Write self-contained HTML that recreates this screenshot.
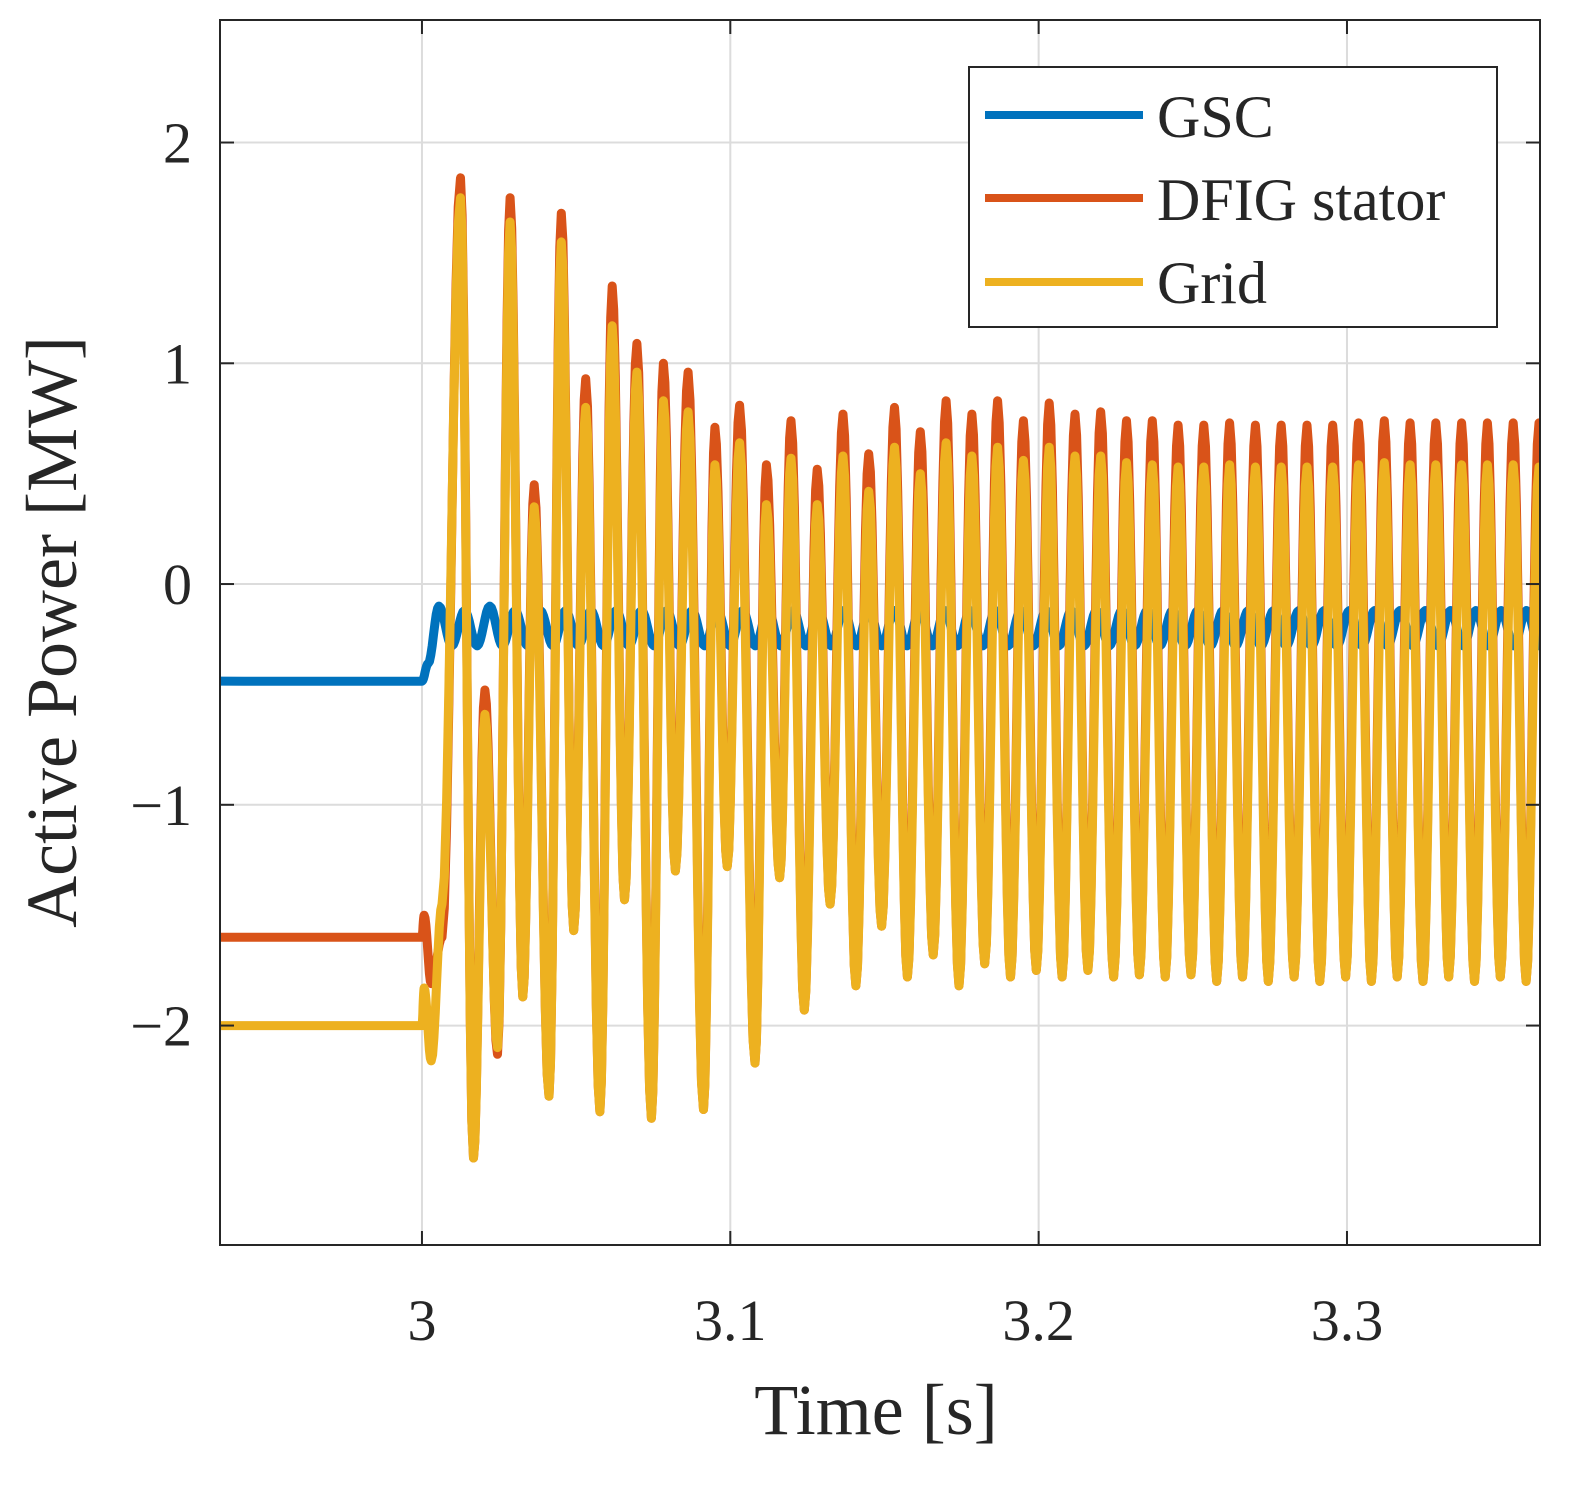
<!DOCTYPE html>
<html><head><meta charset="utf-8"><style>
html,body{margin:0;padding:0;background:#fff;}
svg{display:block;font-family:"Liberation Serif",serif;}
</style></head><body>
<svg id="chart" width="1593" height="1488" viewBox="0 0 1593 1488" xmlns="http://www.w3.org/2000/svg">
<g id="grid"></g>
<clipPath id="pc"><rect x="220" y="20" width="1320" height="1225"/></clipPath>
<g id="series" clip-path="url(#pc)"></g>
<rect x="220" y="20" width="1320" height="1225" fill="none" stroke="#262626" stroke-width="2"/>
<g id="ticks"></g>
<text x="876" y="1434" font-size="72" text-anchor="middle" fill="#262626">Time [s]</text>
<text transform="translate(76,632) rotate(-90)" font-size="72" text-anchor="middle" fill="#262626">Active Power [MW]</text>
<g>
<rect x="969" y="67" width="528" height="260" fill="#fff" stroke="#262626" stroke-width="2"/>
<line x1="985" y1="115" x2="1143" y2="115" stroke="#0072BD" stroke-width="8"/>
<text x="1157" y="137" font-size="60" fill="#262626">GSC</text>
<line x1="985" y1="198" x2="1143" y2="198" stroke="#D95319" stroke-width="8"/>
<text x="1157" y="220" font-size="60" fill="#262626">DFIG stator</text>
<line x1="985" y1="282" x2="1143" y2="282" stroke="#EDB120" stroke-width="8"/>
<text x="1157" y="303" font-size="60" fill="#262626">Grid</text>
</g>
</svg>
<script>
const xTicks=[3,3.1,3.2,3.3];
const xTickLabels=["3","3.1","3.2","3.3"];
const yTicks=[2,1,0,-1,-2];
const yTickLabels=["2","1","0","\u22121","\u22122"];
const earlyT=[2.934,3.0,3.0007,3.003,3.0065,3.0125,3.0167,3.0204,3.0245,3.0286,3.0327,3.0364,3.0412,3.0452,3.0492,3.0531,3.0577,3.0617,3.0657,3.0697,3.0744,3.0783,3.0822,3.0863,3.0913,3.095,3.099,3.103,3.108,3.1117,3.116,3.1197];
const gridEarly=[-2.0,-2.0,-1.83,-2.16,-1.45,1.75,-2.6,-0.59,-2.10,1.64,-1.87,0.35,-2.32,1.55,-1.57,0.80,-2.39,1.17,-1.43,0.96,-2.42,0.83,-1.30,0.78,-2.38,0.54,-1.28,0.64,-2.17,0.36,-1.33,0.57];
const statorEarly=[-1.6,-1.6,-1.5,-1.81,-1.6,1.84,-2.6,-0.48,-2.13,1.75,-1.87,0.45,-2.32,1.68,-1.57,0.93,-2.39,1.35,-1.43,1.09,-2.42,1.0,-1.30,0.96,-2.38,0.71,-1.28,0.81,-2.17,0.54,-1.33,0.74];
const lateStart=3.124, lateStep=0.00418;
const lateTroughs=[-1.93,-1.45,-1.82,-1.55,-1.78,-1.68,-1.82,-1.72,-1.78,-1.75,-1.78,-1.75,-1.78,-1.77,-1.78,-1.77,-1.80,-1.78,-1.80,-1.78,-1.80,-1.78,-1.80,-1.78,-1.80,-1.78,-1.80,-1.78,-1.80];
const statorLatePeaks=[0.52,0.77,0.59,0.80,0.69,0.83,0.77,0.83,0.74,0.82,0.77,0.78,0.74,0.74,0.72,0.72,0.73,0.72,0.72,0.72,0.72,0.73,0.74,0.73,0.73,0.73,0.73,0.73,0.73];
const gridLatePeaks=[0.36,0.58,0.42,0.62,0.50,0.64,0.58,0.62,0.56,0.62,0.58,0.58,0.55,0.54,0.53,0.53,0.54,0.53,0.53,0.53,0.53,0.54,0.55,0.54,0.54,0.54,0.54,0.54,0.53];
const gscT=[2.934,3.0,3.002,3.0055];
const gscV=[-0.44,-0.44,-0.36,-0.10];
const gscOscStart=3.0097, gscOscStep=0.0041;
const gscOsc=[-0.28,-0.12,-0.28,-0.10,-0.28,-0.12,-0.28,-0.12,-0.28,-0.12,-0.28,-0.12,-0.28,-0.12,-0.28,-0.12,-0.28,-0.12,-0.28,-0.12,-0.28,-0.12,-0.28,-0.12,-0.28,-0.12,-0.28,-0.12,-0.28,-0.12,-0.28,-0.12,-0.28,-0.12,-0.28,-0.12,-0.28,-0.12,-0.28,-0.12,-0.28,-0.12,-0.28,-0.12,-0.28,-0.12,-0.28,-0.12,-0.28,-0.12,-0.28,-0.12,-0.28,-0.12,-0.28,-0.12,-0.28,-0.12,-0.28,-0.12,-0.28,-0.12,-0.28,-0.12,-0.28,-0.12,-0.28,-0.12,-0.28,-0.12,-0.28,-0.12,-0.28,-0.12,-0.28,-0.12,-0.28,-0.12,-0.28,-0.12,-0.28,-0.12,-0.28,-0.12,-0.28,-0.12,-0.28,-0.12,-0.28];

const X0=220,X1=1540,Y0=20,Y1=1245,XMIN=2.9345,XMAX=3.3626,YMIN=-2.994,YMAX=2.555;
const sx=t=>X0+(t-XMIN)/(XMAX-XMIN)*(X1-X0);
const sy=v=>Y1-(v-YMIN)/(YMAX-YMIN)*(Y1-Y0);
const NS="http://www.w3.org/2000/svg";
function mk(tag,attrs,parent){const e=document.createElementNS(NS,tag);for(const k in attrs)e.setAttribute(k,attrs[k]);parent.appendChild(e);return e;}
const grid=document.getElementById('grid'),ticks=document.getElementById('ticks'),series=document.getElementById('series');
xTicks.forEach((t,i)=>{const x=sx(t);
 const g=mk('line',{x1:x,y1:Y0,x2:x,y2:Y1,stroke:'#dcdcdc','stroke-width':2},grid);
 
 
 const a=mk('line',{x1:x,y1:Y1,x2:x,y2:Y1-14,stroke:'#262626','stroke-width':2},ticks);
 
 
 const b=mk('line',{x1:x,y1:Y0,x2:x,y2:Y0+14,stroke:'#262626','stroke-width':2},ticks);
 
 
 const l=mk('text',{x:x,y:1340,'font-size':58,'text-anchor':'middle',fill:'#262626'},ticks);l.textContent=xTickLabels[i];
 
 
});
yTicks.forEach((v,i)=>{const y=sy(v);
 const g=mk('line',{x1:X0,y1:y,x2:X1,y2:y,stroke:'#dcdcdc','stroke-width':2},grid);
 
 
 const a=mk('line',{x1:X0,y1:y,x2:X0+14,y2:y,stroke:'#262626','stroke-width':2},ticks);
 
 
 const b=mk('line',{x1:X1,y1:y,x2:X1-14,y2:y,stroke:'#262626','stroke-width':2},ticks);
 
 
 const l=mk('text',{x:192,y:y+20,'font-size':58,'text-anchor':'end',fill:'#262626'},ticks);l.textContent=yTickLabels[i];
 
 
});
function lateSeries(peaks){const T=[],V=[];for(let i=0;i<lateTroughs.length;i++){T.push(lateStart+2*i*lateStep);V.push(lateTroughs[i]);if(i<peaks.length){T.push(lateStart+(2*i+1)*lateStep);V.push(peaks[i]);}}return [T,V];}
function pathFrom(T,V){let d='';for(let i=0;i<T.length;i++){if(i===0){d+='M'+sx(T[0])+','+sy(V[0]);continue;}
 const n=8;for(let k=1;k<=n;k++){const f=k/n,c=(1-Math.cos(Math.PI*f))/2;const t=T[i-1]+(T[i]-T[i-1])*f,v=V[i-1]+(V[i]-V[i-1])*c;d+=' L'+sx(t).toFixed(1)+','+sy(v).toFixed(1);}}return d;}
function draw(T,V,color,name){const p=mk('path',{d:pathFrom(T,V),fill:'none',stroke:color,'stroke-width':9,'stroke-linejoin':'round'},series);
 
 }
const [ltS,lvS]=lateSeries(statorLatePeaks);
const [ltG,lvG]=lateSeries(gridLatePeaks);
const sT=earlyT.concat(ltS,[3.3655]),sV=statorEarly.concat(lvS,[-1.5]);
const gT=earlyT.concat(ltG,[3.3655]),gV=gridEarly.concat(lvG,[-1.6]);
const bT=gscT.slice(),bV=gscV.slice();gscOsc.forEach((v,i)=>{bT.push(gscOscStart+i*gscOscStep);bV.push(v);});
draw(bT,bV,'#0072BD','line-gsc');
draw(sT,sV,'#D95319','line-dfig-stator');
draw(gT,gV,'#EDB120','line-grid');
</script>
</body></html>
